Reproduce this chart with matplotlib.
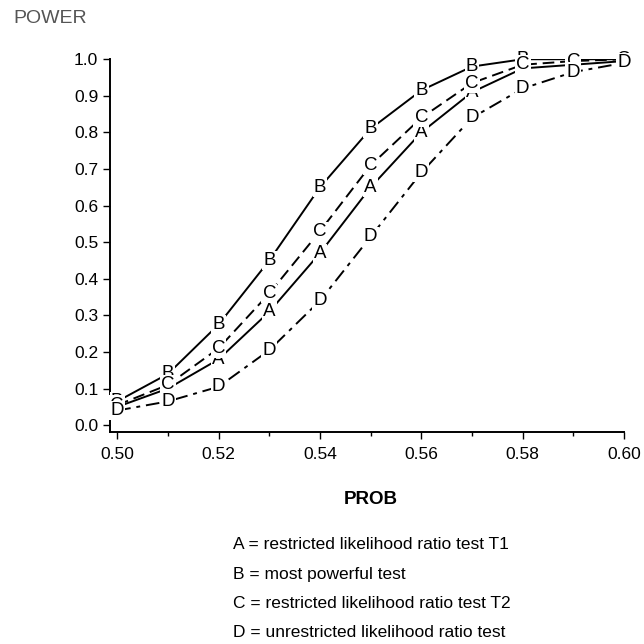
import matplotlib.pyplot as plt
import numpy as np
from matplotlib.ticker import MultipleLocator, FormatStrFormatter

plt.rcParams["font.family"] = ["Liberation Sans", "DejaVu Sans"]

# data
prob = [0.50, 0.51, 0.52, 0.53, 0.54, 0.55, 0.56, 0.57, 0.58, 0.59, 0.60]
power_a = [0.050, 0.100, 0.180, 0.310, 0.470, 0.650, 0.800, 0.910, 0.975, 0.985, 0.995]
power_b = [0.065, 0.140, 0.275, 0.450, 0.650, 0.810, 0.915, 0.980, 1.000, 1.000, 1.000]
power_c = [0.055, 0.110, 0.210, 0.360, 0.530, 0.710, 0.840, 0.935, 0.985, 0.995, 1.000]
power_d = [0.040, 0.065, 0.105, 0.205, 0.340, 0.515, 0.690, 0.840, 0.920, 0.965, 0.990]

legend_lines = [
    "A = restricted likelihood ratio test T1",
    "B = most powerful test",
    "C = restricted likelihood ratio test T2",
    "D = unrestricted likelihood ratio test",
]

series = [
    ("A", power_a, "-"),
    ("B", power_b, "-"),
    ("C", power_c, (0, (6, 3))),
    ("D", power_d, (0, (7, 3, 2, 3))),
]

fig = plt.figure(figsize=(6.44, 6.44), dpi=100)
ax = fig.add_axes([0.171, 0.329, 0.798, 0.579])

for letter, vals, ls in series:
    ax.plot(prob, vals, color="black", lw=1.4, linestyle=ls, zorder=2)
    for x, y in zip(prob, vals):
        ax.text(x, y, letter, ha="center", va="center", fontsize=13.5, zorder=3,
                bbox=dict(boxstyle="square,pad=0.06", fc="white", ec="none"))

ax.set_xlim(0.4986, 0.60)
ax.set_ylim(-0.019, 1.0)
ax.xaxis.set_major_locator(MultipleLocator(0.02))
ax.xaxis.set_minor_locator(MultipleLocator(0.01))
ax.yaxis.set_major_locator(MultipleLocator(0.1))
ax.xaxis.set_major_formatter(FormatStrFormatter("%.2f"))
ax.yaxis.set_major_formatter(FormatStrFormatter("%.1f"))
ax.tick_params(axis="both", which="major", labelsize=12.5, length=5, width=1, direction="out")
ax.tick_params(axis="x", which="minor", length=3, width=1, direction="out")
ax.tick_params(axis="x", pad=6)

for side in ["top", "right"]:
    ax.spines[side].set_visible(False)
for side in ["left", "bottom"]:
    ax.spines[side].set_linewidth(1.4)

fig.text(0.02, 0.972, "POWER", fontsize=14, color="#555555", va="center", ha="left")
fig.text(0.575, 0.224, "PROB", fontsize=13.5, fontweight="bold", va="center", ha="center")

for i, line in enumerate(legend_lines):
    fig.text(0.362, 0.154 - i * 0.0455, line, fontsize=12.5, va="center", ha="left")

fig.savefig("out.png", dpi=100, facecolor="white")
